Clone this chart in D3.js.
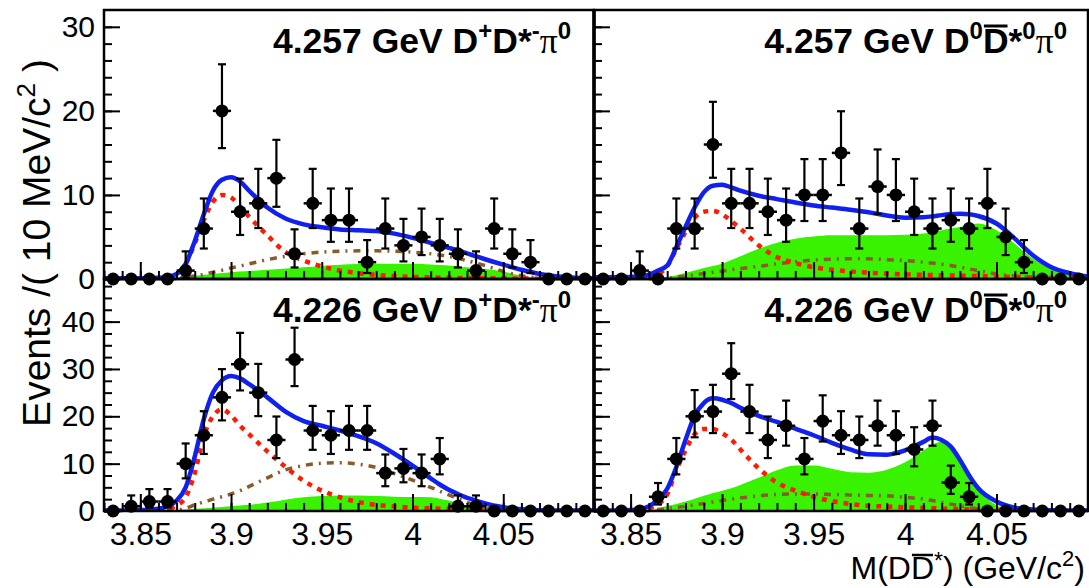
<!DOCTYPE html>
<html>
<head>
<meta charset="utf-8">
<script src="https://cdn.jsdelivr.net/npm/d3@7"></script>
<style>
  body { margin: 0; background: #fff; }
  svg { display: block; font-family: 'Liberation Sans', Arial, sans-serif; }
</style>
</head>
<body>
<div id="chart"></div>
<script>
// bin centres of M(DD*) in GeV/c2, 10 MeV bins
const massBins = [3.835, 3.845, 3.855, 3.865, 3.875, 3.885, 3.895, 3.905, 3.915, 3.925,
  3.935, 3.945, 3.955, 3.965, 3.975, 3.985, 3.995, 4.005, 4.015, 4.025,
  4.035, 4.045, 4.055, 4.065, 4.075, 4.085, 4.095];

// events per bin
const counts4257Charged = [0, 0, 0, 0, 1, 6, 20, 8, 9, 12, 3, 9, 7, 7, 2, 6, 4, 5, 4, 3, 1, 6, 3, 2, 0, 0, 0];
const counts4257Neutral = [0, 0, 1, 0, 6, 6, 16, 9, 9, 8, 7, 10, 10, 15, 6, 11, 10, 8, 6, 7, 6, 9, 5, 2, 0, 0, 0];
const counts4226Charged = [0, 1, 2, 2, 10, 16, 24, 31, 25, 15, 32, 17, 16, 17, 17, 8, 9, 8, 11, 1, 1, 0, 0, 0, 0, 0, 0];
const counts4226Neutral = [0, 0, 0, 3, 11, 20, 21, 29, 21, 15, 18, 11, 19, 16, 15, 18, 16, 13, 18, 6, 3, 0, 0, 0, 0, 0, 0];

const curveMass = [3.83, 3.84, 3.85, 3.86, 3.865, 3.87, 3.875, 3.88, 3.885, 3.89, 3.895, 3.9,
  3.905, 3.91, 3.92, 3.93, 3.94, 3.95, 3.96, 3.97, 3.98, 3.99, 4.0, 4.01, 4.015, 4.02,
  4.025, 4.03, 4.035, 4.04, 4.05, 4.06, 4.07, 4.08, 4.09, 4.10];

// 4.257 GeV D+D*-pi0
const total4257Charged = [0.1, 0.1, 0.1, 0.15, 0.25, 0.6, 1.8, 4.5, 7.7, 10.5, 11.8, 12.1,
  11.6, 10.5, 8.5, 7.2, 6.5, 6.15, 5.9, 5.8, 5.7, 5.4, 4.9, 4.3, 4.0, 3.7,
  3.4, 3.05, 2.7, 2.35, 1.7, 1.1, 0.6, 0.3, 0.15, 0.1];
const signal4257Charged = [0, 0, 0, 0.05, 0.2, 0.6, 1.8, 4.2, 7.0, 9.2, 10.0, 9.7,
  8.6, 7.4, 5.2, 3.2, 2.2, 1.5, 1.0, 0.7, 0.5, 0.35, 0.25, 0.2, 0.18, 0.15,
  0.13, 0.12, 0.1, 0.1, 0.08, 0.06, 0.04, 0.03, 0.02, 0.02];
const phsp4257Charged = [0, 0, 0, 0, 0.02, 0.08, 0.2, 0.35, 0.55, 0.8, 1.05, 1.3,
  1.55, 1.8, 2.3, 2.7, 3.0, 3.2, 3.3, 3.35, 3.35, 3.3, 3.2, 3.0, 2.85, 2.7,
  2.45, 2.2, 1.9, 1.6, 0.9, 0.4, 0.1, 0, 0, 0];
const bkg4257Charged = [0, 0, 0, 0, 0.05, 0.15, 0.3, 0.4, 0.5, 0.6, 0.7, 0.8,
  0.88, 0.95, 1.1, 1.25, 1.4, 1.55, 1.7, 1.78, 1.82, 1.82, 1.8, 1.72, 1.66, 1.6,
  1.5, 1.4, 1.3, 1.2, 0.9, 0.4, 0.1, 0, 0, 0];

// 4.257 GeV D0D*0bar pi0
const total4257Neutral = [0.2, 0.2, 0.25, 0.5, 1.0, 1.6, 3.8, 6.2, 8.5, 10.3, 11.1, 11.2,
  10.9, 10.5, 9.9, 9.5, 9.1, 8.75, 8.5, 8.25, 7.95, 7.55, 7.3, 7.35, 7.45, 7.6,
  7.7, 7.75, 7.7, 7.5, 6.6, 4.8, 2.8, 1.4, 0.7, 0.3];
const signal4257Neutral = [0, 0, 0.05, 0.3, 0.6, 1.5, 3.6, 5.6, 7.3, 8.0, 8.1, 7.7,
  6.9, 6.0, 4.0, 2.6, 1.9, 1.4, 1.1, 0.9, 0.75, 0.65, 0.55, 0.5, 0.48, 0.45,
  0.42, 0.4, 0.38, 0.35, 0.3, 0.25, 0.2, 0.15, 0.1, 0.1];
const phsp4257Neutral = [0, 0, 0, 0, 0.05, 0.1, 0.2, 0.35, 0.5, 0.65, 0.8, 0.95,
  1.1, 1.25, 1.5, 1.8, 2.05, 2.25, 2.35, 2.4, 2.4, 2.3, 2.2, 2.0, 1.9, 1.75,
  1.6, 1.4, 1.2, 1.0, 0.6, 0.35, 0.2, 0.1, 0, 0];
const bkg4257Neutral = [0, 0, 0, 0, 0.1, 0.25, 0.45, 0.7, 1.0, 1.3, 1.55, 1.8,
  2.25, 2.7, 3.6, 4.3, 4.8, 5.05, 5.2, 5.2, 5.2, 5.2, 5.25, 5.4, 5.6, 5.8,
  6.0, 6.2, 6.4, 6.6, 5.8, 4.2, 2.4, 1.2, 0.6, 0.2];

// 4.226 GeV D+D*-pi0
const total4226Charged = [0.1, 0.1, 0.2, 0.5, 1.0, 2.2, 5.0, 11.5, 19.4, 25.0, 27.6, 28.5,
  28.0, 26.8, 24.0, 21.0, 19.0, 18.0, 17.0, 15.8, 14.3, 12.1, 9.6, 6.9, 5.6, 4.5,
  3.6, 2.8, 2.2, 1.6, 0.8, 0.35, 0.15, 0.1, 0.1, 0.1];
const signal4226Charged = [0, 0, 0.05, 0.2, 0.5, 1.2, 2.9, 8.0, 15.8, 20.0, 21.5, 20.2,
  18.0, 16.2, 12.6, 9.3, 6.4, 4.3, 2.9, 1.9, 1.3, 0.95, 0.7, 0.55, 0.5, 0.45,
  0.4, 0.35, 0.3, 0.25, 0.2, 0.15, 0.1, 0.08, 0.05, 0.05];
const phsp4226Charged = [0, 0, 0, 0, 0.05, 0.2, 0.6, 1.3, 1.9, 2.5, 3.0, 3.6,
  4.3, 5.2, 7.0, 8.7, 9.6, 10.1, 10.2, 9.9, 9.2, 7.9, 6.5, 5.0, 4.2, 3.4,
  2.6, 1.8, 1.2, 0.7, 0.15, 0, 0, 0, 0, 0];
const bkg4226Charged = [0, 0, 0, 0, 0.05, 0.15, 0.3, 0.45, 0.6, 0.7, 0.85, 1.0,
  1.15, 1.3, 1.8, 2.4, 2.9, 3.15, 3.25, 3.25, 3.15, 3.0, 2.95, 2.9, 2.6, 2.2,
  1.7, 1.1, 0.6, 0.3, 0, 0, 0, 0, 0, 0];

// 4.226 GeV D0D*0bar pi0
const total4226Neutral = [0.1, 0.1, 0.2, 1.0, 2.5, 4.7, 9.3, 15.0, 20.1, 22.8, 23.8, 23.5,
  22.8, 21.8, 20.1, 18.8, 17.4, 16.0, 14.4, 13.0, 12.0, 11.9, 12.8, 14.6, 15.5, 15.0,
  13.6, 10.8, 7.5, 4.8, 2.0, 0.7, 0.3, 0.15, 0.1, 0.1];
const signal4226Neutral = [0, 0, 0.1, 0.6, 1.4, 3.5, 8.6, 12.8, 16.2, 17.3, 17.3, 16.4,
  15.1, 13.0, 9.0, 6.0, 4.3, 3.0, 2.1, 1.5, 1.1, 0.95, 0.8, 0.65, 0.6, 0.5,
  0.45, 0.4, 0.35, 0.3, 0.2, 0.15, 0.1, 0.05, 0.05, 0.05];
const phsp4226Neutral = [0, 0, 0, 0.1, 0.3, 0.5, 0.75, 1.0, 1.3, 1.6, 1.9, 2.2,
  2.5, 2.75, 3.2, 3.5, 3.6, 3.6, 3.5, 3.4, 3.3, 3.2, 2.9, 2.5, 2.2, 1.8,
  1.45, 1.1, 0.75, 0.4, 0.05, 0, 0, 0, 0, 0];
const bkg4226Neutral = [0, 0, 0, 0.1, 0.5, 1.1, 1.5, 2.0, 2.6, 3.2, 3.8, 4.3,
  4.8, 5.5, 7.0, 8.6, 9.6, 9.6, 8.9, 8.2, 8.1, 8.7, 10.3, 12.8, 14.0, 14.6,
  12.9, 10.4, 7.2, 4.6, 1.2, 0.2, 0, 0, 0, 0];

// axis labels
const xTickValues = [3.85, 3.9, 3.95, 4.0, 4.05];
const xTickLabels = ['3.85', '3.9', '3.95', '4', '4.05'];
const yTicksTop = [0, 10, 20, 30];
const yTicksBottom = [0, 10, 20, 30, 40];
const energies = ['4.257 GeV', '4.226 GeV'];

const width = 1089;
const height = 588;
const massRange = [3.83, 4.10];
const colX = [[104, 594], [594, 1088]];
const rowY = [[10, 279], [279, 511]];
const yMax = [32, 49];

const panels = [
  {row: 0, col: 0, counts: counts4257Charged, total: total4257Charged, signal: signal4257Charged, phsp: phsp4257Charged, bkg: bkg4257Charged, neutral: false},
  {row: 0, col: 1, counts: counts4257Neutral, total: total4257Neutral, signal: signal4257Neutral, phsp: phsp4257Neutral, bkg: bkg4257Neutral, neutral: true},
  {row: 1, col: 0, counts: counts4226Charged, total: total4226Charged, signal: signal4226Charged, phsp: phsp4226Charged, bkg: bkg4226Charged, neutral: false},
  {row: 1, col: 1, counts: counts4226Neutral, total: total4226Neutral, signal: signal4226Neutral, phsp: phsp4226Neutral, bkg: bkg4226Neutral, neutral: true}
];

const svg = d3.select('#chart')
  .append('svg')
  .attr('width', width)
  .attr('height', height)
  .style('background', '#fff');

// poisson (garwood) interval, wilson-hilferty approximation
function errLow(n) {
  if (n === 0) return 0;
  return n - n * Math.pow(1 - 1 / (9 * n) - 1 / (3 * Math.sqrt(n)), 3);
}
function errHigh(n) {
  const m = n + 1;
  return m * Math.pow(1 - 1 / (9 * m) + 1 / (3 * Math.sqrt(m)), 3) - n;
}

function sup(t, s) {
  t.append('tspan').attr('dy', -14).style('font-size', '24px').text(s);
}

function drawPanel(p, i) {
  const x = d3.scaleLinear().domain(massRange).range(colX[p.col]);
  const y = d3.scaleLinear().domain([0, yMax[p.row]]).range([rowY[p.row][1], rowY[p.row][0]]);
  const g = svg.append('g');

  const clipId = 'clip' + i;
  svg.append('clipPath').attr('id', clipId)
    .append('rect')
    .attr('x', colX[p.col][0]).attr('y', rowY[p.row][0])
    .attr('width', colX[p.col][1] - colX[p.col][0])
    .attr('height', rowY[p.row][1] - rowY[p.row][0]);

  const plot = g.append('g').attr('clip-path', 'url(#' + clipId + ')');

  const pts = (arr) => curveMass.map((m, k) => [m, arr[k]]);

  const area = d3.area()
    .x(d => x(d[0]))
    .y0(y(0))
    .y1(d => y(d[1]))
    .curve(d3.curveMonotoneX);
  const line = d3.line()
    .x(d => x(d[0]))
    .y(d => y(d[1]))
    .curve(d3.curveMonotoneX);

  plot.append('path')
    .attr('d', area(pts(p.bkg)))
    .attr('fill', '#38f200');

  plot.append('path')
    .attr('d', line(pts(p.phsp)))
    .attr('fill', 'none')
    .attr('stroke', '#8b5a2b')
    .attr('stroke-width', 3.5)
    .attr('stroke-dasharray', '7,6,2,6');

  plot.append('path')
    .attr('d', line(pts(p.signal)))
    .attr('fill', 'none')
    .attr('stroke', '#ff1a00')
    .attr('stroke-width', 4.5)
    .attr('stroke-dasharray', '5,6');

  plot.append('path')
    .attr('d', line(pts(p.total)))
    .attr('fill', 'none')
    .attr('stroke', '#1020f0')
    .attr('stroke-width', 4.5);

  // y axis, ticks pointing into the frame
  const yMajor = p.row === 0 ? yTicksTop : yTicksBottom;
  const yMinor = p.row === 0 ? d3.range(0, yMax[0], 2) : d3.range(0, yMax[1], 2.5);
  g.append('g')
    .attr('transform', 'translate(' + colX[p.col][0] + ',0)')
    .call(d3.axisLeft(y).tickValues(yMinor).tickSize(-8).tickFormat(''))
    .call(s => s.select('.domain').remove());
  const ya = g.append('g')
    .attr('transform', 'translate(' + colX[p.col][0] + ',0)')
    .call(d3.axisLeft(y).tickValues(yMajor).tickSize(-16).tickPadding(9)
      .tickFormat(p.col === 0 ? d3.format('d') : ''))
    .call(s => s.select('.domain').remove());
  ya.selectAll('text')
    .style('font-size', '30px')
    .style('font-family', "'Liberation Sans', Arial, sans-serif")
    .attr('fill', '#000');

  // x axis
  g.append('g')
    .attr('transform', 'translate(0,' + rowY[p.row][1] + ')')
    .call(d3.axisBottom(x).ticks(27).tickSize(-8).tickFormat(''))
    .call(s => s.select('.domain').remove());
  const xa = g.append('g')
    .attr('transform', 'translate(0,' + rowY[p.row][1] + ')')
    .call(d3.axisBottom(x).tickValues(xTickValues).tickSize(-17).tickPadding(11)
      .tickFormat((d, k) => p.row === 1 ? xTickLabels[k] : ''))
    .call(s => s.select('.domain').remove());
  xa.selectAll('text')
    .style('font-size', '32px')
    .style('font-family', "'Liberation Sans', Arial, sans-serif")
    .attr('fill', '#000');
  g.selectAll('.tick line').attr('stroke', '#000').attr('stroke-width', 2);

  // frame
  g.append('rect')
    .attr('x', colX[p.col][0]).attr('y', rowY[p.row][0])
    .attr('width', colX[p.col][1] - colX[p.col][0])
    .attr('height', rowY[p.row][1] - rowY[p.row][0])
    .attr('fill', 'none')
    .attr('stroke', '#000')
    .attr('stroke-width', 2.5);

  // data points with error bars
  const dots = g.append('g').selectAll('g')
    .data(massBins.map((m, k) => ({m: m, n: p.counts[k]})))
    .enter()
    .append('g');
  dots.filter(d => d.n > 0).append('line')
    .attr('x1', d => x(d.m)).attr('x2', d => x(d.m))
    .attr('y1', d => y(d.n - errLow(d.n)))
    .attr('y2', d => y(d.n + errHigh(d.n)))
    .attr('stroke', '#000').attr('stroke-width', 2.2);
  dots.filter(d => d.n > 0).append('line')
    .attr('x1', d => x(d.m) - 4).attr('x2', d => x(d.m) + 4)
    .attr('y1', d => y(d.n + errHigh(d.n)))
    .attr('y2', d => y(d.n + errHigh(d.n)))
    .attr('stroke', '#000').attr('stroke-width', 2.2);
  dots.filter(d => d.n > 0).append('line')
    .attr('x1', d => x(d.m) - 4).attr('x2', d => x(d.m) + 4)
    .attr('y1', d => y(d.n - errLow(d.n)))
    .attr('y2', d => y(d.n - errLow(d.n)))
    .attr('stroke', '#000').attr('stroke-width', 2.2);
  dots.append('line')
    .attr('x1', d => x(d.m - 0.005)).attr('x2', d => x(d.m + 0.005))
    .attr('y1', d => y(d.n)).attr('y2', d => y(d.n))
    .attr('stroke', '#000').attr('stroke-width', 2.5);
  dots.append('circle')
    .attr('cx', d => x(d.m))
    .attr('cy', d => y(d.n))
    .attr('r', 6.5)
    .attr('fill', '#000');

  // panel label
  const t = g.append('text')
    .attr('x', p.col === 0 ? 571 : 1067)
    .attr('y', rowY[p.row][0] + 43)
    .attr('text-anchor', 'end')
    .style('font-size', '35.5px')
    .style('font-weight', 'bold')
    .attr('fill', '#000');
  t.append('tspan').text(energies[p.row] + ' D');
  sup(t, p.neutral ? '0' : '+');
  t.append('tspan').attr('dy', 14).text('D');
  t.append('tspan').text('*');
  if (p.neutral) sup(t, '0'); else sup(t, '-');
  t.append('tspan').attr('dy', 14)
    .style('font-family', "'Liberation Serif', serif")
    .style('font-weight', 'normal')
    .text('π');
  sup(t, '0');
  if (p.neutral) {
    // bar over the second D
    const idx = (energies[p.row] + ' D').length + 1;
    const box = t.node().getExtentOfChar(idx);
    g.append('line')
      .attr('x1', box.x + 1).attr('x2', box.x + box.width - 1)
      .attr('y1', box.y + 5).attr('y2', box.y + 5)
      .attr('stroke', '#000').attr('stroke-width', 3);
  }
}

panels.forEach(drawPanel);

// shared divider between columns
svg.append('line')
  .attr('x1', colX[1][0]).attr('x2', colX[1][0])
  .attr('y1', rowY[0][0]).attr('y2', rowY[1][1])
  .attr('stroke', '#000').attr('stroke-width', 3.5);

// y title
const yt = svg.append('text')
  .attr('transform', 'translate(50,243) rotate(-90)')
  .attr('text-anchor', 'middle')
  .style('font-size', '39px')
  .attr('fill', '#000');
yt.append('tspan').text('Events /( 10 MeV/c');
yt.append('tspan').attr('dy', -15).style('font-size', '26px').text('2');
yt.append('tspan').attr('dy', 15).text(' )');

// x title
const xt = svg.append('text')
  .attr('x', 1085)
  .attr('y', 579)
  .attr('text-anchor', 'end')
  .style('font-size', '32px')
  .attr('fill', '#000');
xt.append('tspan').text('M(DD');
xt.append('tspan').attr('dy', -10).style('font-size', '23px').text('*');
xt.append('tspan').attr('dy', 10).text(') (GeV/c');
xt.append('tspan').attr('dy', -13).style('font-size', '22px').text('2');
xt.append('tspan').attr('dy', 13).text(')');
const ob = xt.node().getExtentOfChar(3);
svg.append('line')
  .attr('x1', ob.x + 1).attr('x2', ob.x + ob.width - 1)
  .attr('y1', ob.y + 5).attr('y2', ob.y + 5)
  .attr('stroke', '#000').attr('stroke-width', 2.5);
</script>
</body>
</html>
